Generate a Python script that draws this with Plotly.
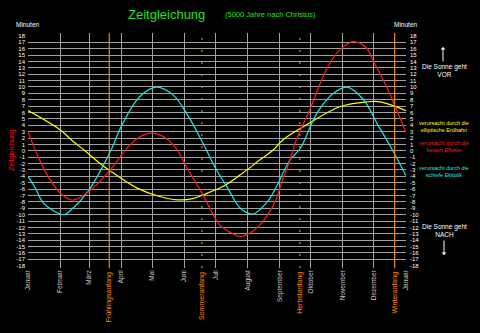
import plotly.graph_objects as go

# Equation of time for the year 5000 AD (minutes), read per day of year
red_days = [0, 10, 20, 31, 43, 57, 79, 95, 108, 119, 131, 143, 153, 169, 185, 198,
            205, 214, 224, 237, 246, 253, 259, 272, 288, 301, 314, 327, 333, 346, 356, 365]
red_vals = [3.0, -1.0, -4.2, -6.6, -7.7, -6.6, -3.1, 0.3, 2.2, 2.77, 2.2, 0.4, -2.5, -6.9, -11.6, -13.0,
            -13.4, -12.9, -11.6, -8.5, -4.5, -1.4, 1.7, 6.4, 12.7, 15.8, 17.1, 16.1, 14.2, 10.1, 6.4, 2.9]

# Part caused by the elliptic orbit
yel_days = [0, 31, 42, 55, 69, 79, 105, 127, 144, 159, 169, 188, 205, 224, 237, 246,
            269, 301, 327, 340, 365]
yel_vals = [6.3, 3.3, 1.7, 0.0, -1.9, -3.1, -5.8, -7.15, -7.67, -7.5, -6.9, -5.6, -3.76, -1.4, 0.16, 1.7,
            4.07, 6.9, 7.67, 7.67, 6.3]

# Part caused by the oblique ecliptic
cya_days = [0, 7, 15, 31, 36, 40, 57, 73, 81, 90, 108, 124, 140, 153, 168, 182, 192,
            205, 217, 230, 240, 253, 263, 279, 295, 308, 324, 337, 351, 365]
cya_vals = [-4.0, -5.8, -8.2, -9.9, -9.95, -9.5, -6.6, -2.2, 0.4, 3.8, 8.5, 9.97, 8.76, 5.9, 1.5, -3.0, -5.6,
            -9.0, -9.9, -8.2, -5.6, -1.4, 0.4, 5.9, 9.0, 9.97, 8.0, 4.3, 0.4, -3.9]

month_days = [0, 31, 59, 90, 120, 151, 181, 212, 243, 273, 304, 334, 365]
month_names = ["Januar", "Februar", "März", "April", "Mai", "Juni", "Juli", "August",
               "September", "Oktober", "November", "Dezember", "Januar"]

season_days = [78.5, 168, 262.5, 354]
season_names = ["Frühlingsanfang", "Sommeranfang", "Herbstanfang", "Winteranfang"]
season_dash = ["solid", "2px,10px", "2px,10px", "solid"]

minute_ticks = list(range(-18, 19))
grid_minutes = list(range(-17, 18))

W, H = 480, 333
L, R, T, B = 28, 74, 33, 65
PW, PH = W - L - R, H - T - B
Y0, Y1 = -18.35, 18.45

def px(x):
    return (x - L) / PW

def py(y):
    return (H - B - y) / PH

GRID = "#a0a0a0"
ORANGE = "#e08a1e"
FONT = "Liberation Sans"

fig = go.Figure()

fig.add_trace(go.Scatter(x=yel_days, y=yel_vals, mode="lines", line=dict(color="#ffff00", width=1.2, shape="spline"),
                         yaxis="y", hoverinfo="skip"))
fig.add_trace(go.Scatter(x=cya_days, y=cya_vals, mode="lines", line=dict(color="#1ee6e6", width=1.2, shape="spline"),
                         yaxis="y", hoverinfo="skip"))
fig.add_trace(go.Scatter(x=red_days, y=red_vals, mode="lines", line=dict(color="#ff1a1a", width=1.2, shape="spline"),
                         yaxis="y", hoverinfo="skip"))
# invisible traces to activate the right-hand and grid axes
fig.add_trace(go.Scatter(x=[0], y=[0], mode="markers", marker=dict(opacity=0), yaxis="y2", hoverinfo="skip"))
fig.add_trace(go.Scatter(x=[0], y=[0], mode="markers", marker=dict(opacity=0), yaxis="y3", hoverinfo="skip"))

shapes = []
for d, dash in zip(season_days, season_dash):
    shapes.append(dict(type="line", xref="x", yref="paper", x0=d, x1=d, y0=0, y1=1,
                       line=dict(color=ORANGE, width=1.2, dash=dash), layer="above"))

annotations = []
for d, name in zip(season_days, season_names):
    annotations.append(dict(x=d, y=py(270), xref="x", yref="paper", text=name, showarrow=False,
                            textangle=-90, yanchor="top", xanchor="center",
                            font=dict(family=FONT, size=7, color="#ff8c00")))


def note(x, y, text, size, color, angle=0):
    return dict(x=px(x), y=py(y), xref="paper", yref="paper", text=text, showarrow=False,
                xanchor="center", yanchor="middle", align="center", textangle=angle,
                font=dict(family=FONT, size=size, color=color))


annotations += [
    note(166, 14, "Zeitgleichung", 13, "#22e022"),
    note(270, 14, "(5000 Jahre nach Christus)", 7.5, "#22e022"),
    note(28, 24, "Minuten", 6.5, "white"),
    note(406, 24, "Minuten", 6.5, "white"),
    note(12, 150, "Zeitgleichung", 7, "#ff1a1a", angle=-90),
    # right-hand notes
    dict(x=px(443), y=py(47), ax=0, ay=16, xref="paper", yref="paper", text="", showarrow=True,
         arrowhead=1, arrowsize=0.8, arrowwidth=1, arrowcolor="white"),
    note(444, 70, "Die Sonne geht<br>VOR", 6.5, "white"),
    note(444, 126, "verursacht durch die<br>elliptische Erdbahn", 5.5, "#ffff00"),
    note(444, 146, "verursacht durch die<br>beiden Effekte", 5.5, "#ff1a1a"),
    note(444, 171, "verursacht durch die<br>schiefe Ekliptik", 5.5, "#1ee6e6"),
    note(444, 230, "Die Sonne geht<br>NACH", 6.5, "white"),
    dict(x=px(444), y=py(255), ax=0, ay=-16, xref="paper", yref="paper", text="", showarrow=True,
         arrowhead=1, arrowsize=0.8, arrowwidth=1, arrowcolor="white"),
]

tick_font = dict(family=FONT, size=6, color="white")

fig.update_layout(
    width=W, height=H,
    margin=dict(l=L, r=R, t=T, b=B),
    paper_bgcolor="black", plot_bgcolor="black",
    showlegend=False,
    xaxis=dict(range=[0, 365], tickmode="array", tickvals=month_days, ticktext=month_names,
               tickangle=-90, tickfont=dict(family=FONT, size=6.5, color="#c8c8c8"),
               showgrid=True, gridcolor=GRID, gridwidth=1, zeroline=False, showline=False,
               ticks="", fixedrange=True),
    yaxis=dict(range=[Y0, Y1], tickmode="array", tickvals=minute_ticks,
               ticktext=[str(v) for v in minute_ticks], tickfont=tick_font,
               showgrid=False, zeroline=False, showline=False, ticks="", ticklabelstandoff=2),
    yaxis2=dict(range=[Y0, Y1], overlaying="y", side="right", tickmode="array", tickvals=minute_ticks,
                ticktext=[str(v) for v in minute_ticks], tickfont=tick_font,
                showgrid=False, zeroline=False, showline=False, ticks="", ticklabelstandoff=3),
    yaxis3=dict(range=[Y0, Y1], overlaying="y", tickmode="array", tickvals=grid_minutes,
                showticklabels=False, showgrid=True, gridcolor=GRID, gridwidth=1, zeroline=False,
                showline=False, ticks="", layer="below traces"),
    shapes=shapes,
    annotations=annotations,
)

fig.write_html("out.html")
